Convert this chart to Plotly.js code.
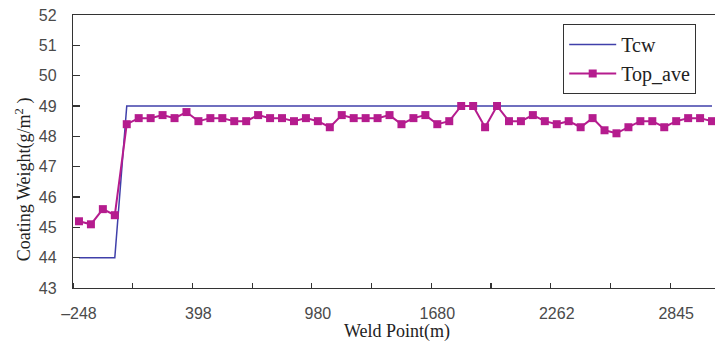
<!DOCTYPE html>
<html>
<head>
<meta charset="utf-8">
<script src="https://cdn.plot.ly/plotly-3.0.1.min.js"></script>
<style>
html,body{margin:0;padding:0;background:#fff;overflow:hidden;}
#chart{width:720px;height:341px;}
</style>
</head>
<body>
<div id="chart"></div>
<script>
// Weld point index (categories, evenly spaced as in the source line chart)
const weldIndex = Array.from({length: 54}, (_, i) => i);
// Labelled weld points (m)
const tickIndex = [0, 10, 20, 30, 40, 50];
const tickLabels = ['\u2013248', '398', '980', '1680', '2262', '2845'];

// Target coating weight (Tcw)
const tcw = [44, 44, 44, 44,
  49, 49, 49, 49, 49, 49, 49, 49, 49, 49, 49, 49, 49, 49, 49, 49, 49, 49, 49, 49, 49, 49, 49, 49, 49, 49,
  49, 49, 49, 49, 49, 49, 49, 49, 49, 49, 49, 49, 49, 49, 49, 49, 49, 49, 49, 49, 49, 49, 49, 49];

// Measured top-side average (Top_ave)
const topAve = [45.2, 45.1, 45.6, 45.4, 48.4, 48.6, 48.6, 48.7, 48.6, 48.8,
  48.5, 48.6, 48.6, 48.5, 48.5, 48.7, 48.6, 48.6, 48.5, 48.6,
  48.5, 48.3, 48.7, 48.6, 48.6, 48.6, 48.7, 48.4, 48.6, 48.7,
  48.4, 48.5, 49.0, 49.0, 48.3, 49.0, 48.5, 48.5, 48.7, 48.5,
  48.4, 48.5, 48.3, 48.6, 48.2, 48.1, 48.3, 48.5, 48.5, 48.3,
  48.5, 48.6, 48.6, 48.5];

const traces = [
  {
    x: weldIndex, y: tcw, name: 'Tcw', type: 'scatter', mode: 'lines',
    line: {color: '#4040aa', width: 1.5}
  },
  {
    x: weldIndex, y: topAve, name: 'Top_ave', type: 'scatter', mode: 'lines+markers',
    line: {color: '#b51c8e', width: 2},
    marker: {symbol: 'square', size: 8, color: '#b51c8e'}
  }
];

const layout = {
  width: 720, height: 341,
  margin: {l: 73, r: 2, t: 15, b: 53},
  paper_bgcolor: '#ffffff', plot_bgcolor: '#ffffff',
  showlegend: true,
  legend: {
    x: 0.76, y: 0.967, xanchor: 'left', yanchor: 'top',
    bgcolor: '#ffffff', bordercolor: '#333333', borderwidth: 1,
    itemwidth: 47,
    font: {family: 'Liberation Serif, Times New Roman, serif', size: 20, color: '#222'},
    tracegroupgap: 0
  },
  xaxis: {
    range: [-0.5, 53.5],
    tickmode: 'array', tickvals: tickIndex, ticktext: tickLabels,
    ticks: '', showgrid: false, zeroline: false,
    showline: true, linecolor: '#333', linewidth: 1.2, mirror: true,
    ticklabelstandoff: 11,
    tickfont: {family: 'Liberation Sans, Arial, sans-serif', size: 16, color: '#4a4a4a'},
    minor: {tickmode: 'linear', tick0: -0.5, dtick: 5, ticks: 'inside', ticklen: 5, tickcolor: '#333', tickwidth: 1.2, showgrid: false}
  },
  yaxis: {
    range: [43, 52], tickmode: 'linear', tick0: 43, dtick: 1,
    ticks: 'inside', ticklen: 7, tickcolor: '#333', tickwidth: 1.2,
    showgrid: false, zeroline: false,
    showline: true, linecolor: '#333', linewidth: 1.2, mirror: true,
    ticklabelstandoff: 12,
    tickfont: {family: 'Liberation Sans, Arial, sans-serif', size: 16, color: '#4a4a4a'}
  },
  annotations: [
    {
      text: 'Coating Weight(g/m<sup>2</sup> )', textangle: -90,
      xref: 'paper', yref: 'paper', x: -0.0770, y: 0.40,
      xanchor: 'center', yanchor: 'middle', showarrow: false,
      font: {family: 'Liberation Serif, Times New Roman, serif', size: 18, color: '#222'}
    },
    {
      text: 'Weld Point(m)',
      xref: 'paper', yref: 'paper', x: 0.503, y: -0.158,
      xanchor: 'center', yanchor: 'middle', showarrow: false,
      font: {family: 'Liberation Serif, Times New Roman, serif', size: 18, color: '#222'}
    }
  ]
};

Plotly.newPlot('chart', traces, layout, {staticPlot: true, displayModeBar: false});
</script>
</body>
</html>
